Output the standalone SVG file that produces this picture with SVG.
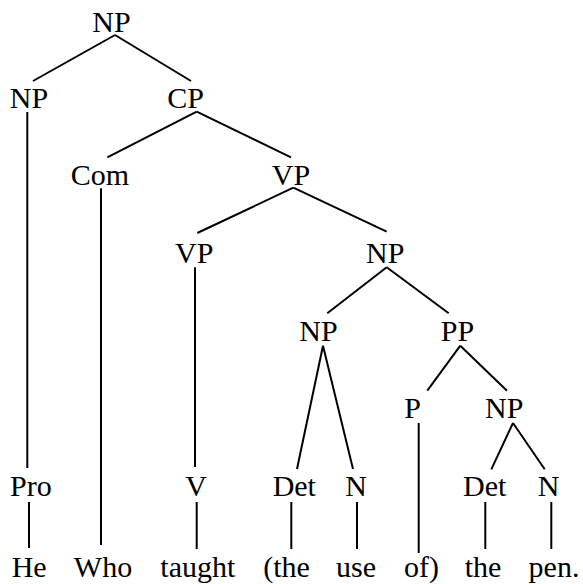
<svg xmlns="http://www.w3.org/2000/svg" width="583" height="584" viewBox="0 0 583 584">
<style>
.t text{font-family:"Liberation Serif","Times New Roman","Noto Serif","DejaVu Serif",FreeSerif,Georgia,serif;font-size:30px;fill:#000;text-anchor:middle}
.e line{stroke:#000;stroke-width:2;stroke-linecap:butt}
</style>
<rect width="583" height="584" fill="#fff"/>
<g class="e" id="connectors">
<line x1="115" y1="35" x2="33" y2="81"/>
<line x1="115" y1="35" x2="191" y2="81"/>
<line x1="27.3" y1="112" x2="27.3" y2="468"/>
<line x1="196.7" y1="111.7" x2="107.3" y2="157.3"/>
<line x1="196.7" y1="111.7" x2="291" y2="157.3"/>
<line x1="101" y1="188.3" x2="101" y2="545"/>
<line x1="293.3" y1="187.7" x2="197.3" y2="233"/>
<line x1="293.3" y1="187.7" x2="386.7" y2="231.7"/>
<line x1="195" y1="267.3" x2="195" y2="467"/>
<line x1="386.7" y1="267.3" x2="327.3" y2="313.3"/>
<line x1="386.7" y1="267.3" x2="448.7" y2="313.3"/>
<line x1="323" y1="345.7" x2="297" y2="469"/>
<line x1="323" y1="345.7" x2="353" y2="469"/>
<line x1="460.3" y1="345.7" x2="427.3" y2="390.7"/>
<line x1="460.3" y1="345.7" x2="507" y2="390.7"/>
<line x1="418.7" y1="423" x2="418.7" y2="553"/>
<line x1="513" y1="423" x2="491.3" y2="469.3"/>
<line x1="513" y1="423" x2="544.7" y2="469.3"/>
<line x1="29" y1="502" x2="29" y2="548"/>
<line x1="196.7" y1="502" x2="196.7" y2="549"/>
<line x1="291.3" y1="502" x2="291.3" y2="549"/>
<line x1="357" y1="502" x2="357" y2="549"/>
<line x1="485.3" y1="502" x2="485.3" y2="549"/>
<line x1="551.3" y1="502" x2="551.3" y2="549"/>
</g>
<g class="t">
<g id="np-root"><text x="111.5" y="32">NP</text></g>
<g id="np-he"><text x="29" y="108">NP</text></g>
<g id="cp"><text x="185.5" y="108">CP</text></g>
<g id="com"><text x="100" y="185">Com</text></g>
<g id="vp-top"><text x="291" y="185">VP</text></g>
<g id="vp-left"><text x="194.3" y="263">VP</text></g>
<g id="np-mid"><text x="385.3" y="263">NP</text></g>
<g id="np-use"><text x="318.5" y="341">NP</text></g>
<g id="pp"><text x="457.5" y="341">PP</text></g>
<g id="p"><text x="412.5" y="418">P</text></g>
<g id="np-pen"><text x="504.3" y="418">NP</text></g>
<g id="pro"><text x="30.8" y="496">Pro</text></g>
<g id="v"><text x="196" y="496">V</text></g>
<g id="det1"><text x="294.3" y="496">Det</text></g>
<g id="n1"><text x="356" y="496">N</text></g>
<g id="det2"><text x="484.7" y="496">Det</text></g>
<g id="n2"><text x="548.5" y="496">N</text></g>
<g id="w-he"><text x="29.2" y="577">He</text></g>
<g id="w-who"><text x="103" y="577">Who</text></g>
<g id="w-taught"><text x="197.8" y="577">taught</text></g>
<g id="w-the1"><text x="286.5" y="577">(the</text></g>
<g id="w-use"><text x="356" y="577">use</text></g>
<g id="w-of"><text x="421.5" y="577">of)</text></g>
<g id="w-the2"><text x="483" y="577">the</text></g>
<g id="w-pen"><text x="554" y="577">pen.</text></g>
</g>
</svg>
